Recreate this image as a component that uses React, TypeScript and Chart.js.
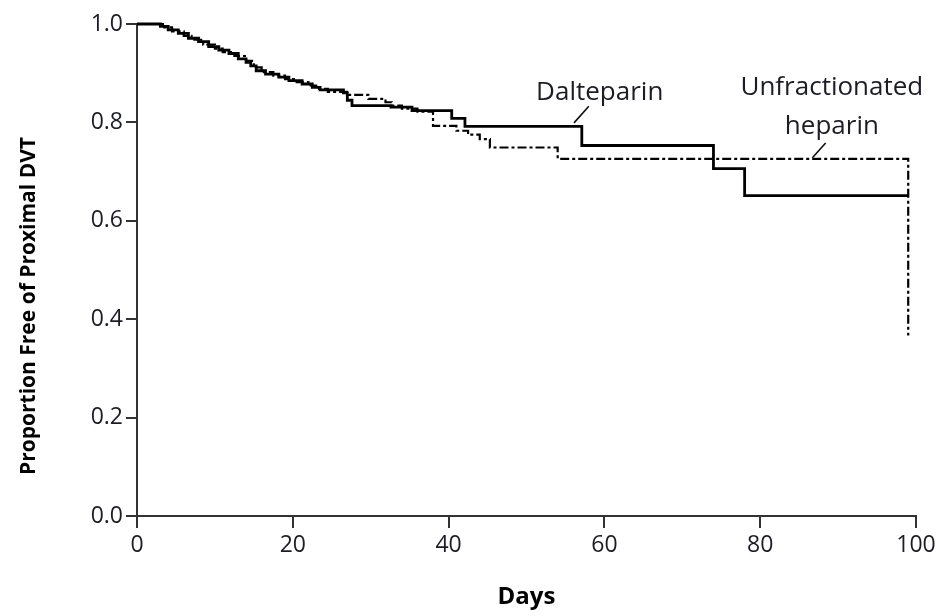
import React, { useEffect, useRef } from "react";
import { Chart, registerables } from "chart.js";

Chart.register(...registerables);

// Kaplan-Meier estimates (day of event, proportion free after the event)
const daltDays = [0, 3, 4, 5.3, 6.6, 7.9, 9.2, 10.5, 11.8, 13, 14, 14.6, 15.3, 16.5, 18.2, 19.5, 21.2, 22.5, 23.5, 26.5, 27, 27.6, 32.6, 35.3, 40.4, 42.1, 57.1, 74, 78, 99];
const daltSurv = [1.0, 0.995, 0.988, 0.981, 0.971, 0.964, 0.954, 0.947, 0.94, 0.929, 0.922, 0.915, 0.905, 0.898, 0.892, 0.885, 0.878, 0.871, 0.866, 0.86, 0.845, 0.834, 0.831, 0.824, 0.808, 0.792, 0.753, 0.706, 0.651, 0.651];

const ufhDays = [0, 3.5, 4.5, 6, 7, 8.5, 10, 11, 12.5, 14, 15, 16, 17.5, 19, 20.5, 22, 23, 24.5, 27.2, 29.7, 31.9, 32.7, 34, 36, 38, 41, 42.5, 44, 45.3, 54, 99, 99];
const ufhSurv = [1.0, 0.993, 0.985, 0.976, 0.968, 0.958, 0.95, 0.943, 0.935, 0.925, 0.912, 0.902, 0.895, 0.888, 0.882, 0.875, 0.868, 0.862, 0.856, 0.848, 0.841, 0.834, 0.828, 0.822, 0.793, 0.783, 0.775, 0.766, 0.749, 0.726, 0.726, 0.367];

const xTickValues = [0, 20, 40, 60, 80, 100];
const yTickValues = [0, 0.2, 0.4, 0.6, 0.8, 1.0];
const xTitle = "Days";
const yTitle = "Proportion Free of Proximal DVT";

// Annotation labels (in data coordinates) with leader lines
const annotLines = [["Dalteparin"], ["Unfractionated", "heparin"]];
const annotAt = [[59.4, 0.86], [89.2, 0.87]];
const leaderFrom = [[56.1, 0.799], [86.7, 0.728]];
const leaderTo = [[58.0, 0.833], [88.4, 0.758]];

const FONT = "'Open Sans', 'Noto Sans', sans-serif";
const INK = "#1c1c28";

const toPoints = (xs: number[], ys: number[]) => xs.map((x, i) => ({ x, y: ys[i] }));

const annotationPlugin = {
  id: "kmAnnotations",
  afterDatasetsDraw(chart: any) {
    const { ctx, scales, chartArea } = chart;
    const xs = scales.x;
    const ys = scales.y;
    ctx.save();
    ctx.font = `26px ${FONT}`;
    ctx.fillStyle = INK;
    ctx.textAlign = "center";
    ctx.textBaseline = "middle";
    annotLines.forEach((lines, i) => {
      const cx = xs.getPixelForValue(annotAt[i][0]);
      const cy = ys.getPixelForValue(annotAt[i][1]);
      lines.forEach((t, j) => ctx.fillText(t, cx, cy + j * 39));
      ctx.beginPath();
      ctx.strokeStyle = "#111";
      ctx.lineWidth = 1.6;
      ctx.moveTo(xs.getPixelForValue(leaderFrom[i][0]), ys.getPixelForValue(leaderFrom[i][1]));
      ctx.lineTo(xs.getPixelForValue(leaderTo[i][0]), ys.getPixelForValue(leaderTo[i][1]));
      ctx.stroke();
    });
    // y-axis title
    ctx.font = `bold 21px ${FONT}`;
    ctx.fillStyle = "#000";
    ctx.translate(29, (chartArea.top + chartArea.bottom) / 2 + 36);
    ctx.rotate(-Math.PI / 2);
    ctx.fillText(yTitle, 0, 0);
    ctx.restore();
  },
};

export default function App() {
  const ref = useRef<HTMLCanvasElement | null>(null);

  useEffect(() => {
    if (!ref.current) return;
    const chart = new Chart(ref.current, {
      type: "line",
      data: {
        datasets: [
          {
            label: "Dalteparin",
            data: toPoints(daltDays, daltSurv),
            stepped: "before",
            borderColor: "#000",
            borderWidth: 2.8,
            pointRadius: 0,
            fill: false,
            clip: false as any,
          },
          {
            label: "Unfractionated heparin",
            data: toPoints(ufhDays, ufhSurv),
            stepped: "before",
            borderColor: "#000",
            borderWidth: 2.2,
            borderDash: [9, 3, 3, 3],
            pointRadius: 0,
            fill: false,
            clip: false as any,
          },
        ],
      },
      options: {
        responsive: false,
        animation: false,
        layout: { padding: { left: 0, right: 24, top: 24, bottom: 0 } },
        plugins: { legend: { display: false }, tooltip: { enabled: false } },
        scales: {
          x: {
            type: "linear",
            min: 0,
            max: 100,
            afterBuildTicks: (s: any) => {
              s.ticks = xTickValues.map((v) => ({ value: v }));
            },
            afterFit: (s: any) => {
              s.height = 100;
            },
            grid: { drawOnChartArea: false, drawTicks: true, tickLength: 12, color: "#333", lineWidth: 2 },
            border: { display: true, color: "#333", width: 2 },
            ticks: { color: INK, font: { family: FONT, size: 23 }, padding: 4, maxRotation: 0 },
            title: {
              display: true,
              text: xTitle,
              color: "#000",
              font: { family: FONT, size: 24, weight: "bold" },
              padding: { top: 0, bottom: 4 },
            },
          },
          y: {
            type: "linear",
            min: 0,
            max: 1,
            afterBuildTicks: (s: any) => {
              s.ticks = yTickValues.map((v) => ({ value: v }));
            },
            afterFit: (s: any) => {
              s.width = 137;
            },
            grid: { drawOnChartArea: false, drawTicks: true, tickLength: 11, color: "#333", lineWidth: 2 },
            border: { display: true, color: "#333", width: 2 },
            ticks: {
              color: INK,
              font: { family: FONT, size: 23 },
              padding: 3,
              callback: (v: any) => Number(v).toFixed(1),
            },
            title: { display: false, text: yTitle },
          },
        },
      },
      plugins: [annotationPlugin],
    });
    return () => chart.destroy();
  }, []);

  return (
    <div style={{ position: "fixed", left: 0, top: 0, width: 940, height: 616, background: "#fff" }}>
      <canvas ref={ref} width={940} height={616} style={{ display: "block" }} />
    </div>
  );
}
